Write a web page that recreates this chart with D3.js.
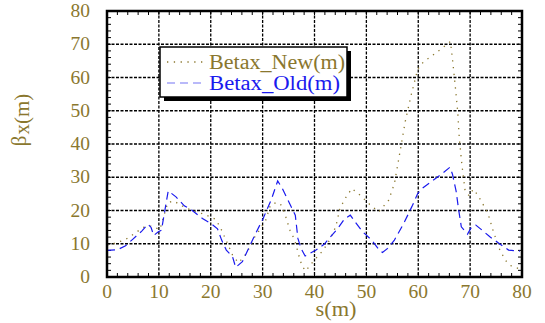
<!DOCTYPE html>
<html>
<head>
<meta charset="utf-8">
<script src="https://cdn.jsdelivr.net/npm/d3@7"></script>
<style>
  body { margin: 0; background: #fff; }
  text { font-family: "Liberation Serif", "Times New Roman", serif; }
</style>
</head>
<body>
<svg id="chart" width="545" height="323"></svg>
<script>
// beta function along the line, new and old optics
var sNew = [0, 2, 3.6, 5.3, 7, 8.5, 10.2, 11.7, 12.8, 14.5, 16.2, 17.9, 19.6, 21, 22, 23.5, 24.2, 25.3, 26.4,
  27.4, 28.5, 29.4, 30.6, 31.5, 32.5, 33.4, 34.2, 35.3, 36.2, 37, 37.6, 38.3, 39.7, 41.7, 42.9, 44.1, 44.9,
  45.9, 47.2, 48.8, 50.6, 52.4, 54.3, 55.4, 56.3, 57.5, 58.6, 59.9, 61, 62.8, 64.5, 66.2, 66.6, 67.1, 67.6,
  67.9, 68.4, 69, 69.8, 70.6, 71.5, 72.4, 73.4, 74.4, 75.6, 76.8, 78, 79.3];
var betaNew = [9.5, 10.4, 11.3, 13.1, 14.9, 15.3, 14.3, 22.3, 22.9, 21.4, 20.1, 19.3, 18.3, 17.3, 14.4, 9.1, 6.6, 4.3, 6,
  8.6, 12.1, 14.1, 17.1, 21.6, 22.3, 22.1, 19.4, 13.9, 11.1, 6.3, 3.3, 1.8, 4.6, 8.1, 11.1, 15.1, 20.6,
  23.6, 26.6, 24.6, 21.9, 19.6, 23.1, 28.1, 36, 46.8, 54.5, 62.5, 64.7, 66.7, 68.7, 70.8, 65.5, 58, 49.8,
  42, 34, 26.3, 24.4, 26.4, 24.6, 22.1, 19.3, 14.1, 8.6, 5, 3.2, 2.6];

var sOld = [0, 2, 3.5, 5, 6.7, 7.9, 8.5, 9, 9.9, 10.5, 11.8, 13.3, 14.9, 16.2, 18.4, 20.2, 21.3, 22.1, 23, 24.2,
  24.8, 26.1, 28.5, 30.1, 31.7, 32.9, 33.8, 35.2, 36.3, 36.8, 37.4, 38.2, 40.3, 41.9, 43.2, 44.5, 45.8, 46.9,
  47.9, 49.3, 51, 52.5, 53.1, 54.1, 55.4, 57.2, 58.9, 59.9, 60.7, 62.6, 64.2, 66.1, 66.6, 67.3, 67.8, 68.3,
  69.5, 70.3, 71.1, 72.3, 73.8, 75.6, 77.4, 78.9, 79.6];
var betaOld = [8, 8.2, 9.3, 11.4, 13.8, 15.9, 14.9, 12.5, 13.6, 14.1, 25.9, 24.1, 21.4, 20.3, 17.6, 15.9, 14.5, 11.1, 8.1, 6.1,
  2.9, 4.6, 12.6, 17.6, 23.4, 28.9, 26.6, 22.1, 18.6, 11.6, 8.6, 6.3, 8.1, 9.9, 12.3, 14.6, 17.5, 18.6,
  16.4, 13.6, 11.1, 8.1, 7.4, 8.6, 11.1, 16.1, 21.6, 25.1, 26.6, 28.8, 30.6, 33, 30.9, 25.8, 20.1, 15.1,
  12.9, 15.1, 15.6, 14.1, 12.1, 10.1, 8.1, 7.9, 7.8];

var xTicks = [0, 10, 20, 30, 40, 50, 60, 70, 80];
var yTicks = [0, 10, 20, 30, 40, 50, 60, 70, 80];
var seriesNames = ["Betax_New(m)", "Betax_Old(m)"];

var gold = "#8a772e";
var blue = "#1a1aee";

var margin = {top: 11, right: 23, bottom: 46, left: 107};
var svg = d3.select("#chart");
var width = 545 - margin.left - margin.right;
var height = 323 - margin.top - margin.bottom;

var x = d3.scaleLinear().domain([0, 80]).range([0, width]);
var y = d3.scaleLinear().domain([0, 80]).range([height, 0]);

var g = svg.append("g").attr("transform", "translate(" + margin.left + "," + margin.top + ")");

// dotted grid
g.selectAll("line.gx").data(xTicks.slice(1, -1)).enter().append("line")
  .attr("x1", d => x(d)).attr("x2", d => x(d))
  .attr("y1", 0).attr("y2", height)
  .attr("stroke", "#000").attr("stroke-width", 1.3).attr("stroke-dasharray", "3,1.5");
g.selectAll("line.gy").data(yTicks.slice(1, -1)).enter().append("line")
  .attr("y1", d => y(d)).attr("y2", d => y(d))
  .attr("x1", 0).attr("x2", width)
  .attr("stroke", "#000").attr("stroke-width", 1.3).attr("stroke-dasharray", "3,1.5");

// minor ticks every 2 units, pointing inward on all sides
var minor = d3.range(0, 81, 2);
var tl = 4;
g.selectAll("line.tb").data(minor).enter().append("line")
  .attr("x1", d => x(d)).attr("x2", d => x(d)).attr("y1", height).attr("y2", height - tl)
  .attr("stroke", "#000").attr("stroke-width", 1);
g.selectAll("line.tt").data(minor).enter().append("line")
  .attr("x1", d => x(d)).attr("x2", d => x(d)).attr("y1", 0).attr("y2", tl)
  .attr("stroke", "#000").attr("stroke-width", 1);
g.selectAll("line.tl").data(minor).enter().append("line")
  .attr("y1", d => y(d)).attr("y2", d => y(d)).attr("x1", 0).attr("x2", tl)
  .attr("stroke", "#000").attr("stroke-width", 1);
g.selectAll("line.tr").data(minor).enter().append("line")
  .attr("y1", d => y(d)).attr("y2", d => y(d)).attr("x1", width).attr("x2", width - tl)
  .attr("stroke", "#000").attr("stroke-width", 1);

// curves
var line = d3.line().x(d => x(d[0])).y(d => y(d[1]));

g.append("path")
  .datum(d3.zip(sNew, betaNew))
  .attr("d", line)
  .attr("fill", "none").attr("stroke", gold).attr("stroke-width", 1.3)
  .attr("stroke-dasharray", "1.3,5.5");

g.append("path")
  .datum(d3.zip(sOld, betaOld))
  .attr("d", line)
  .attr("fill", "none").attr("stroke", blue).attr("stroke-width", 1.2)
  .attr("stroke-dasharray", "8,5");

// frame
g.append("rect").attr("width", width).attr("height", height)
  .attr("fill", "none").attr("stroke", "#000").attr("stroke-width", 2.5);

// tick labels
g.selectAll("text.xl").data(xTicks).enter().append("text")
  .attr("x", d => x(d)).attr("y", height + 21)
  .attr("text-anchor", "middle").attr("fill", gold).attr("font-size", 19.5)
  .text(d => d);
g.selectAll("text.yl").data(yTicks).enter().append("text")
  .attr("x", -17).attr("y", d => y(d) + 6)
  .attr("text-anchor", "end").attr("fill", gold).attr("font-size", 19.5)
  .text(d => d);

// axis titles
svg.append("text")
  .attr("x", 336).attr("y", 316)
  .attr("text-anchor", "middle").attr("fill", gold).attr("font-size", 20)
  .attr("textLength", 41).attr("lengthAdjust", "spacingAndGlyphs")
  .text("s(m)");

var yt = svg.append("text")
  .attr("transform", "translate(26,120) rotate(-90)")
  .attr("text-anchor", "middle").attr("fill", gold).attr("font-size", 21);
yt.append("tspan").text("β");
yt.append("tspan").attr("dy", 3).attr("dx", 1).text("x(m)");

// legend
var lg = svg.append("g").attr("transform", "translate(160,47)");
lg.append("rect").attr("x", 4).attr("y", 4).attr("width", 187).attr("height", 50).attr("fill", "#000");
lg.append("rect").attr("width", 187).attr("height", 50).attr("fill", "#fff")
  .attr("stroke", "#000").attr("stroke-width", 1.5);

var legendItems = [
  {name: seriesNames[0], color: gold, dash: "1.3,5.5", w: 1.3, len: 136},
  {name: seriesNames[1], color: blue, dash: "8,5", w: 1.2, len: 131}
];
legendItems.forEach(function (d, i) {
  var ly = 15 + i * 21;
  lg.append("line")
    .attr("x1", 7).attr("x2", 46).attr("y1", ly).attr("y2", ly)
    .attr("stroke", d.color).attr("stroke-width", d.w).attr("stroke-dasharray", d.dash)
    .attr("opacity", i == 1 ? 0.6 : 1);
  lg.append("text")
    .attr("x", 49).attr("y", ly + 7)
    .attr("fill", d.color).attr("font-size", 20)
    .attr("textLength", d.len).attr("lengthAdjust", "spacingAndGlyphs")
    .text(d.name);
});
</script>
</body>
</html>
